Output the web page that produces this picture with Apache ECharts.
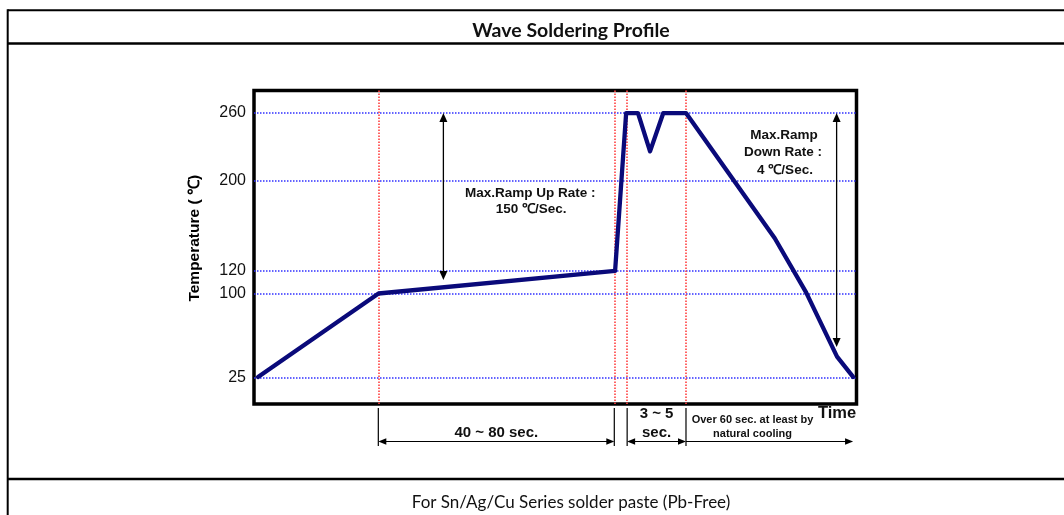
<!DOCTYPE html>
<html><head><meta charset="utf-8">
<script src="https://cdn.jsdelivr.net/npm/echarts@6/dist/echarts.min.js"></script>
<style>html,body{margin:0;padding:0;background:#fff}#c{width:1064px;height:515px}</style>
</head><body><div id="c"></div>
<script>
// ---- data (time in seconds, schematic; temperature in °C) ----
const timeSec = [2, 62, 179.8, 185.3, 191.2, 197.2, 203.8, 215.1, 259.3, 274.9, 290.3, 298.3];
const tempC   = [26, 100, 120, 260, 260, 226, 260, 260, 149, 101, 44, 26];
const yTickValues = [25, 100, 120, 200, 260];
const phaseBoundsSec = [61.9, 179.4, 185.8, 215.1];
const rampUpArrow = { t: 94.3, from: 260, to: 112 };
const rampDownArrow = { t: 290.1, from: 260, to: 52.5 };
const coolingArrowEndSec = 298.3;
const titleText = 'Wave Soldering Profile';
const footerText = 'For Sn/Ag/Cu Series solder paste (Pb-Free)';
const yAxisName = 'Temperature ( ℃)';

const FONT = '"Liberation Sans", Arial, sans-serif';
const chart = echarts.init(document.getElementById('c'), null, { renderer: 'canvas' });

chart.setOption({
  animation: false,
  grid: { left: 254, right: 207.5, top: 90.5, bottom: 111, show: true,
          borderColor: '#000', borderWidth: 3.5, backgroundColor: 'transparent' },
  xAxis: { type: 'value', min: 0, max: 300, axisLine: { show: false }, axisTick: { show: false },
           axisLabel: { show: false }, splitLine: { show: false } },
  yAxis: { type: 'value', min: 2, max: 280, name: yAxisName, nameLocation: 'middle', nameRotate: 90,
           nameGap: 51,
           nameTextStyle: { fontFamily: FONT, fontWeight: 'bold', fontSize: 15.5, color: '#000',
                            padding: [0, 0, 0, 18] },
           axisLine: { show: false }, axisTick: { show: false }, splitLine: { show: false },
           axisLabel: { customValues: yTickValues, fontFamily: FONT, fontSize: 16, color: '#111', margin: 8 } },
  series: [
    { type: 'line', data: [], z: 1, silent: true,
      markLine: { silent: true, symbol: 'none', label: { show: false }, animation: false,
                  lineStyle: { color: '#3030ff', type: [1.5, 1.5], width: 1.6 },
                  emphasis: { disabled: true },
                  data: yTickValues.map(v => ({ yAxis: v })) } },
    { type: 'line', data: [], z: 1, silent: true,
      markLine: { silent: true, symbol: 'none', label: { show: false }, animation: false,
                  lineStyle: { color: '#ff4040', type: [1.5, 1.5], width: 1.6 },
                  emphasis: { disabled: true },
                  data: phaseBoundsSec.map(v => ({ xAxis: v })) } },
    { type: 'line', data: timeSec.map((t, i) => [t, tempC[i]]), showSymbol: false, symbol: 'none',
      z: 5, silent: true, lineStyle: { color: '#0a0a7a', width: 4.3, join: 'round', cap: 'round' } }
  ]
});

function px(t, T) { return chart.convertToPixel({ gridIndex: 0 }, [t, T]); }
const G = [];
function line(x1, y1, x2, y2, w, c) {
  G.push({ type: 'line', z: 20, silent: true, shape: { x1, y1, x2, y2 }, style: { stroke: c || '#000', lineWidth: w || 1 } });
}
function head(x, y, dir, big) {
  const L = big ? 9 : 8, H = big ? 4 : 3.2; let pts;
  if (dir === 'up') pts = [[x, y], [x - H, y + L], [x + H, y + L]];
  else if (dir === 'down') pts = [[x, y], [x - H, y - L], [x + H, y - L]];
  else if (dir === 'left') pts = [[x, y], [x + L, y - H], [x + L, y + H]];
  else pts = [[x, y], [x - L, y - H], [x - L, y + H]];
  G.push({ type: 'polygon', z: 21, silent: true, shape: { points: pts }, style: { fill: '#000' } });
}
function text(x, y, s, font, align) {
  G.push({ type: 'text', z: 22, silent: true, x, y,
           style: { text: s, font, fill: '#111', textAlign: align || 'center', textVerticalAlign: 'middle' } });
}

// table frame
line(7.7, 10.3, 1064, 10.3, 2);
line(7.7, 9.3, 7.7, 515, 2);
line(7.7, 43.5, 1064, 43.5, 2.5);
line(7.7, 479, 1064, 479, 2.5);
text(571, 31, titleText, 'bold 19.5px Lato, "Open Sans", sans-serif');
text(571, 503, footerText, '17px Lato, "Open Sans", sans-serif');

// ramp-up arrow
{
  const a = px(rampUpArrow.t, rampUpArrow.from), b = px(rampUpArrow.t, rampUpArrow.to);
  line(a[0], a[1] + 4, b[0], b[1] - 4, 1.3);
  head(a[0], a[1], 'up', true); head(b[0], b[1], 'down', true);
  const p1 = px(137.6, 189.1), p2 = px(138, 174.9);
  text(p1[0], p1[1], 'Max.Ramp Up Rate :', 'bold 13.5px ' + FONT);
  text(p2[0], p2[1], '150 ℃/Sec.', 'bold 13.5px ' + FONT);
}
// ramp-down arrow
{
  const a = px(rampDownArrow.t, rampDownArrow.from), b = px(rampDownArrow.t, rampDownArrow.to);
  line(a[0], a[1] + 4, b[0], b[1] - 4, 1.3);
  head(a[0], a[1], 'up', true); head(b[0], b[1], 'down', true);
  const p1 = px(263.9, 240.5), p2 = px(263.4, 224.8), p3 = px(264.4, 209.5);
  text(p1[0], p1[1], 'Max.Ramp', 'bold 13.5px ' + FONT);
  text(p2[0], p2[1], 'Down Rate :', 'bold 13.5px ' + FONT);
  text(p3[0], p3[1], '4 ℃/Sec.', 'bold 13.5px ' + FONT);
}
// dimension lines below the time axis
{
  const base = px(0, 2)[1];
  const xs = phaseBoundsSec.map(t => px(t, 2)[0]);
  const yTop = base + 4, yBot = base + 42, ya = base + 37.5;
  xs.forEach(x => line(x, yTop, x, yBot, 1.2));
  line(xs[0] + 3, ya, xs[1] - 3, ya, 1.2); head(xs[0], ya, 'left'); head(xs[1], ya, 'right');
  line(xs[2] + 3, ya, xs[3] - 3, ya, 1.2); head(xs[2], ya, 'left'); head(xs[3], ya, 'right');
  const xe = px(coolingArrowEndSec, 2)[0];
  line(xs[3], ya, xe - 3, ya, 1.2); head(xe, ya, 'right');
  text((xs[0] + xs[1]) / 2, base + 28.5, '40 ~ 80 sec.', 'bold 15px ' + FONT);
  text((xs[2] + xs[3]) / 2, base + 9.5, '3 ~ 5', 'bold 15px ' + FONT);
  text((xs[2] + xs[3]) / 2, base + 28.5, 'sec.', 'bold 15px ' + FONT);
  text((xs[3] + xe) / 2 - 17, base + 16, 'Over 60 sec. at least by', 'bold 11px ' + FONT);
  text((xs[3] + xe) / 2 - 17, base + 29.5, 'natural cooling', 'bold 11px ' + FONT);
  text(xe - 16, base + 9.5, 'Time', 'bold 16.5px ' + FONT);
}
chart.setOption({ graphic: G });
</script></body></html>
